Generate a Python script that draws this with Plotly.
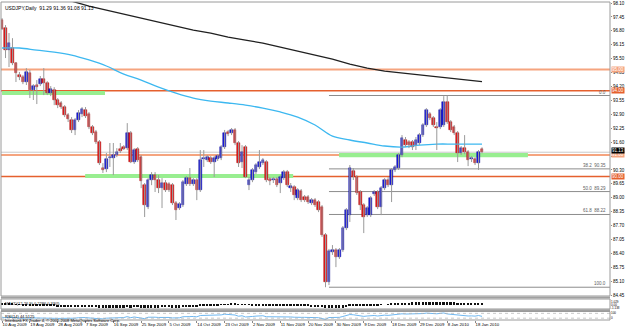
import plotly.graph_objects as go

title_text = "USDJPY,Daily  91.29 91.36 91.08 91.13"

opens = [97.31, 96.93, 95.90, 96.00, 95.30, 94.74, 94.64, 94.41, 94.83, 94.03,
         94.27, 94.31, 94.55, 94.36, 93.89, 94.03, 93.57, 93.43, 93.24, 92.87,
         92.63, 92.17, 92.63, 92.91, 93.10, 92.91, 92.31, 92.07, 91.60, 90.39,
         90.34, 90.86, 90.86, 91.00, 91.28, 91.37, 91.32, 92.03, 90.67, 91.28,
         90.90, 89.59, 88.57, 89.83, 90.06, 89.83, 89.45, 89.69, 89.64, 89.59,
         88.75, 88.52, 88.66, 89.64, 89.92, 89.64, 89.83, 89.36, 90.81, 90.76,
         90.86, 90.67, 90.81, 90.86, 91.37, 92.07, 92.03, 92.17, 91.56, 90.67,
         91.37, 89.59, 89.83, 90.20, 90.44, 90.62, 90.67, 89.87, 89.83, 89.87,
         89.69, 89.92, 90.20, 89.45, 89.50, 88.99, 89.31, 89.03, 89.03, 88.75,
         88.89, 88.80, 88.57, 87.26, 85.06, 86.47, 86.56, 86.23, 86.56, 87.59,
         88.19, 90.25, 89.97, 89.27, 88.66, 88.19, 88.19, 89.17, 89.27, 88.57,
         89.45, 89.83, 89.59, 90.30, 90.39, 91.00, 91.70, 91.60, 91.60, 91.46,
         91.56, 91.93, 92.40, 92.91, 92.73, 92.31, 92.31, 92.40, 93.47, 92.54,
         92.31, 92.03, 91.09, 91.32, 91.14, 90.81, 90.81, 90.62, 91.29]
highs = [97.40, 97.07, 96.70, 96.46, 95.34, 94.88, 94.74, 95.06, 94.97, 94.31,
         94.50, 94.69, 95.06, 94.45, 94.22, 94.17, 93.66, 93.52, 93.33, 92.96,
         92.77, 92.73, 93.10, 93.24, 93.24, 93.01, 92.40, 92.17, 91.70, 90.62,
         91.09, 91.56, 91.56, 91.32, 91.56, 91.46, 92.49, 92.12, 91.32, 91.37,
         91.00, 89.69, 89.92, 90.20, 90.20, 90.06, 89.92, 89.83, 89.73, 89.69,
         88.85, 88.80, 89.83, 90.01, 90.39, 89.92, 89.92, 91.23, 91.23, 91.00,
         90.95, 90.95, 91.04, 91.46, 92.17, 92.17, 92.26, 92.26, 91.65, 91.46,
         91.46, 89.97, 90.39, 90.62, 91.23, 90.86, 90.76, 89.97, 89.97, 89.97,
         90.06, 90.30, 90.30, 89.69, 89.59, 89.45, 89.41, 89.13, 89.13, 88.99,
         88.99, 88.89, 88.66, 87.35, 86.61, 86.79, 86.65, 86.65, 87.68, 88.52,
         90.53, 90.39, 90.06, 89.36, 88.75, 88.61, 89.08, 89.36, 89.36, 89.55,
         89.92, 89.97, 90.39, 90.53, 91.09, 91.93, 91.84, 91.70, 91.70, 91.84,
         92.03, 92.49, 93.19, 93.01, 92.82, 92.54, 93.19, 93.75, 93.78, 92.63,
         92.40, 92.12, 91.42, 91.93, 91.23, 90.95, 90.90, 91.23, 91.36]
lows = [96.84, 95.53, 95.11, 95.20, 94.41, 94.50, 94.31, 94.27, 93.66, 93.57,
        93.38, 94.22, 93.80, 93.80, 93.75, 93.33, 93.19, 93.15, 92.77, 92.54,
        92.03, 91.93, 92.54, 92.77, 92.73, 92.21, 91.93, 91.51, 90.53, 90.16,
        90.20, 90.44, 90.06, 90.90, 91.09, 91.23, 91.23, 90.62, 90.58, 90.67,
        89.45, 88.10, 88.47, 89.59, 89.27, 89.22, 88.52, 89.27, 89.27, 88.66,
        87.96, 88.43, 88.57, 89.55, 89.55, 89.55, 88.89, 89.27, 90.44, 90.67,
        90.58, 89.97, 90.72, 90.76, 91.28, 91.88, 91.93, 91.46, 90.44, 90.39,
        89.92, 89.36, 89.73, 90.11, 90.34, 90.53, 89.73, 89.59, 89.69, 89.50,
        89.22, 89.83, 89.50, 89.27, 88.89, 88.89, 88.80, 88.80, 88.71, 88.66,
        88.57, 88.33, 87.17, 84.82, 84.92, 86.33, 85.76, 86.14, 86.47, 87.49,
        87.87, 89.83, 89.13, 88.43, 87.35, 88.10, 88.10, 89.08, 88.47, 88.19,
        89.36, 89.50, 88.80, 90.20, 90.30, 90.90, 91.37, 91.32, 91.23, 91.23,
        91.46, 91.84, 92.31, 92.63, 92.31, 91.23, 92.21, 92.31, 92.45, 92.07,
        91.93, 90.67, 91.00, 91.04, 90.48, 90.67, 90.53, 90.30, 91.08]
closes = [96.88, 95.90, 96.23, 95.30, 94.83, 94.64, 94.41, 94.88, 94.03, 94.22,
          94.17, 94.55, 94.36, 93.89, 94.08, 93.57, 93.33, 93.24, 92.87, 92.68,
          92.17, 92.63, 92.96, 93.15, 92.82, 92.31, 92.03, 91.60, 90.62, 90.30,
          90.81, 90.90, 91.00, 91.14, 91.18, 91.28, 92.03, 90.67, 91.23, 90.76,
          89.78, 88.66, 89.83, 90.06, 89.83, 89.45, 89.69, 89.36, 89.36, 88.75,
          88.43, 88.71, 89.73, 89.92, 89.64, 89.83, 89.36, 90.76, 90.86, 90.90,
          90.67, 90.86, 90.95, 91.37, 92.03, 91.98, 92.17, 91.56, 90.62, 91.14,
          89.97, 89.83, 90.30, 90.53, 90.67, 90.76, 89.83, 89.78, 89.87, 89.59,
          89.97, 90.20, 89.59, 89.55, 89.13, 89.36, 88.89, 88.89, 88.80, 88.89,
          88.66, 88.43, 87.26, 85.06, 86.51, 86.56, 86.23, 86.56, 87.59, 88.43,
          90.39, 89.97, 89.22, 88.66, 88.10, 88.52, 88.99, 89.27, 88.57, 89.45,
          89.83, 89.59, 90.30, 90.44, 91.00, 91.79, 91.46, 91.46, 91.37, 91.70,
          91.93, 92.40, 93.10, 92.73, 92.40, 92.26, 93.10, 93.47, 92.54, 92.17,
          92.03, 91.09, 91.32, 91.14, 90.76, 90.86, 90.62, 91.14, 91.13]

# long moving average (black) sampled along the bars
ma_long_idx = [10, 15, 20, 25, 30, 35, 40, 45, 50, 55, 60, 65, 70, 75, 80, 85, 90,
               95, 100, 105, 110, 115, 120, 125, 130, 135, 138]
ma_long_val = [98.57, 98.38, 98.19, 97.96, 97.77, 97.59, 97.40, 97.21, 97.03, 96.84,
               96.70, 96.51, 96.37, 96.23, 96.04, 95.86, 95.67, 95.48, 95.25, 95.06,
               94.92, 94.83, 94.74, 94.64, 94.55, 94.48, 94.43]
# medium moving average (light blue)
ma_mid_idx = [0, 5, 10, 15, 20, 25, 30, 35, 40, 45, 50, 55, 60, 65, 70, 75, 80, 85,
              90, 95, 100, 105, 110, 115, 120, 125, 130, 138]
ma_mid_val = [96.00, 96.00, 95.90, 95.81, 95.67, 95.44, 95.16, 94.78, 94.50, 94.17,
              93.89, 93.66, 93.52, 93.43, 93.33, 93.19, 93.01, 92.77, 92.40, 91.88,
              91.70, 91.56, 91.42, 91.37, 91.46, 91.51, 91.51, 91.51]

macd_vals = [0.6, 0.5, 0.4, 0.3, 0.1, -0.05, -0.2, -0.3, -0.4, -0.5,
             -0.55, -0.6, -0.6, -0.65, -0.7, -0.75, -0.8, -0.85, -0.9, -0.95,
             -1.0, -1.0, -1.0, -0.95, -0.95, -1.0, -1.05, -1.1, -1.2, -1.3,
             -1.35, -1.35, -1.35, -1.3, -1.25, -1.2, -1.1, -1.15, -1.1, -1.1,
             -1.15, -1.25, -1.25, -1.2, -1.15, -1.15, -1.1, -1.1, -1.1, -1.15,
             -1.2, -1.2, -1.1, -1.0, -0.95, -0.9, -0.9, -0.75, -0.6, -0.5,
             -0.4, -0.3, -0.2, -0.1, 0.05, 0.15, 0.25, 0.25, 0.15, 0.1,
             -0.05, -0.15, -0.2, -0.2, -0.2, -0.2, -0.3, -0.35, -0.4, -0.45,
             -0.45, -0.45, -0.5, -0.55, -0.6, -0.6, -0.65, -0.7, -0.75, -0.8,
             -0.85, -0.9, -1.05, -1.35, -1.45, -1.5, -1.5, -1.45, -1.3, -1.1,
             -0.7, -0.5, -0.4, -0.4, -0.45, -0.4, -0.3, -0.25, -0.2, -0.1,
             0.0, 0.1, 0.2, 0.3, 0.45, 0.6, 0.7, 0.75, 0.8, 0.85,
             0.9, 0.95, 1.05, 1.1, 1.1, 1.05, 1.1, 1.15, 1.1, 1.0,
             0.9, 0.75, 0.65, 0.55, 0.45, 0.35, 0.3, 0.27, 0.23]

rsi_vals = [38, 33, 38, 34, 30, 30, 28, 33, 29, 32,
            32, 35, 33, 30, 33, 29, 28, 28, 26, 25,
            24, 30, 34, 37, 35, 32, 30, 28, 24, 24,
            30, 31, 33, 35, 35, 35, 43, 34, 40, 36,
            30, 26, 38, 40, 38, 36, 38, 36, 36, 32,
            30, 33, 42, 45, 43, 44, 41, 52, 53, 54,
            52, 53, 54, 57, 63, 62, 63, 56, 46, 50,
            40, 39, 44, 47, 49, 50, 42, 42, 42, 41,
            43, 45, 40, 40, 38, 40, 37, 37, 36, 37,
            36, 34, 27, 20, 35, 35, 34, 37, 44, 50,
            60, 58, 53, 49, 45, 48, 51, 52, 48, 52,
            55, 53, 57, 58, 62, 66, 64, 64, 63, 65,
            66, 68, 72, 70, 67, 66, 70, 73, 65, 62,
            60, 52, 54, 52, 48, 49, 47, 52, 45]

date_tick_idx = [0, 8, 16, 24, 32, 40, 48, 56, 64, 72, 80, 88, 96, 104, 112, 120, 128, 136]
date_tick_text = ["10 Aug 2009", "19 Aug 2009", "28 Aug 2009", "7 Sep 2009", "16 Sep 2009",
                  "25 Sep 2009", "5 Oct 2009", "14 Oct 2009", "23 Oct 2009", "2 Nov 2009",
                  "11 Nov 2009", "20 Nov 2009", "30 Nov 2009", "9 Dec 2009", "18 Dec 2009",
                  "29 Dec 2009", "8 Jan 2010", "18 Jan 2010"]

price_ticks = [98.10, 97.45, 96.80, 96.15, 95.50, 94.85, 94.20, 93.55, 92.90, 92.25,
               91.60, 90.95, 90.30, 89.65, 89.00, 88.35, 87.70, 87.05, 86.40, 85.75,
               85.10, 84.45]
# tick label hidden behind the level boxes on the price scale
hidden_ticks = [90.95]

# horizontal levels
level_prices = [95.00, 94.00, 91.00, 90.00]
level_colors = ["#F5A47F", "#E5602E", "#F5A47F", "#E5602E"]
level_widths = [2, 1.5, 2, 1.5]
bid_price = 91.13

# green zones
zone_x0 = [0, 23.9, 96.9]
zone_x1 = [29.6, 83.7, 151.2]
zone_lo = [93.80, 89.92, 90.90]
zone_hi = [93.99, 90.11, 91.09]

fib_start_idx = 94
fib_prices = [93.78, 90.35, 89.29, 88.22, 84.82]
fib_labels = ["0.0", "38.2  90.35", "50.0  89.29", "61.8  88.22", "100.0"]

x_min, x_max = -0.3, 174.8
y_min, y_max = 84.41, 98.15

FONT = "Liberation Sans"
n = len(opens)
idx = list(range(n))

wick_x, wick_y = [], []
for i in idx:
    wick_x += [i, i, None]
    wick_y += [lows[i], highs[i], None]

body_base = [min(o, c) for o, c in zip(opens, closes)]
body_h = [max(abs(c - o), 0.04) for o, c in zip(opens, closes)]
body_col = ["#1818E0" if c > o else "#E41A1C" for o, c in zip(opens, closes)]
body_line = ["#0A0A90" if c > o else "#A00000" for o, c in zip(opens, closes)]

fig = go.Figure()
fig.add_trace(go.Scatter(x=ma_long_idx, y=ma_long_val, mode="lines",
                         line=dict(color="#202020", width=1.3), hoverinfo="skip"))
fig.add_trace(go.Scatter(x=ma_mid_idx, y=ma_mid_val, mode="lines", line_shape="spline",
                         line=dict(color="#3DB8F0", width=1.3), hoverinfo="skip"))
fig.add_trace(go.Scatter(x=wick_x, y=wick_y, mode="lines",
                         line=dict(color="#9A9A9A", width=1), hoverinfo="skip"))
fig.add_trace(go.Bar(x=idx, y=body_h, base=body_base, width=0.75,
                     marker=dict(color=body_col, line=dict(color=body_line, width=0.5))))

fig.add_trace(go.Bar(x=idx, y=macd_vals, yaxis="y2", width=0.5,
                     marker=dict(color="#101010", line=dict(width=0))))
fig.add_trace(go.Scatter(x=idx, y=rsi_vals, yaxis="y3", mode="lines",
                         line=dict(color="#6FB7F0", width=1)))

shapes = []
for x0, x1, lo, hi in zip(zone_x0, zone_x1, zone_lo, zone_hi):
    shapes.append(dict(type="rect", xref="x", yref="y", x0=x0, x1=x1, y0=lo, y1=hi,
                       fillcolor="#98EE90", line=dict(width=0), layer="below"))
shapes.append(dict(type="line", xref="paper", yref="y", x0=0, x1=1, y0=bid_price, y1=bid_price,
                   line=dict(color="#C8C8C8", width=1), layer="below"))
for p, c, w in zip(level_prices, level_colors, level_widths):
    shapes.append(dict(type="line", xref="paper", yref="y", x0=0, x1=1, y0=p, y1=p,
                       line=dict(color=c, width=w), layer="below"))
for p in fib_prices:
    shapes.append(dict(type="line", xref="x", yref="y", x0=fib_start_idx, x1=x_max, y0=p, y1=p,
                       line=dict(color="#8C8C8C", width=1), layer="below"))
for lv in [70, 30]:
    shapes.append(dict(type="line", xref="paper", yref="y3", x0=0, x1=1, y0=lv, y1=lv,
                       line=dict(color="#B0B0B0", width=0.7, dash="dot")))
for d in [(0.0755, 1.0), (0.0346, 0.066), (0.0, 0.0267)]:
    shapes.append(dict(type="rect", xref="paper", yref="paper", x0=0, x1=1, y0=d[0], y1=d[1],
                       line=dict(color="#9A9A9A", width=1)))
shapes.append(dict(type="line", xref="paper", yref="paper", x0=0, x1=1, y0=0.0705, y1=0.0705,
                   line=dict(color="#A0A0A0", width=2)))
shapes.append(dict(type="line", xref="paper", yref="paper", x0=0, x1=1, y0=0.0305, y1=0.0305,
                   line=dict(color="#A0A0A0", width=2)))

annotations = [
    dict(text=title_text, xref="paper", yref="paper", x=0, y=1, xanchor="left", yanchor="top",
         xshift=2, yshift=-1, showarrow=False, font=dict(size=5, color="#000", family=FONT)),
    dict(text="MACD(12,26,9) 0.2286 0.3305", xref="paper", yref="paper", x=0, y=0.066,
         xanchor="left", yanchor="top", xshift=2, showarrow=False,
         font=dict(size=4, color="#000", family=FONT)),
    dict(text="RSI(14) 44.5125", xref="paper", yref="paper", x=0, y=0.0267,
         xanchor="left", yanchor="top", xshift=2, showarrow=False,
         font=dict(size=4, color="#000", family=FONT)),
    dict(text="Interbank FX Trader 4, © 2001-2008 MetaQuotes Software Corp.", xref="paper",
         yref="paper", x=0, y=0.013, xanchor="left", yanchor="top", xshift=2, showarrow=False,
         font=dict(size=4, color="#000", family=FONT)),
]
for p, lab in zip(fib_prices, fib_labels):
    annotations.append(dict(text=lab, xref="paper", yref="y", x=1, y=p, xanchor="right",
                            yanchor="bottom", xshift=-2, yshift=-1, showarrow=False,
                            font=dict(size=4.5, color="#606060", family=FONT)))
for p, c in zip(level_prices, level_colors):
    annotations.append(dict(text=f"{p:.2f}", xref="paper", yref="y", x=1, y=p, xanchor="left",
                            yanchor="middle", xshift=1, showarrow=False, bgcolor=c, borderpad=0,
                            font=dict(size=4.5, color="#FFFFFF", family=FONT)))
annotations.append(dict(text=f"{bid_price:.2f}", xref="paper", yref="y", x=1, y=bid_price,
                        xanchor="left", yanchor="middle", xshift=1, yshift=2, showarrow=False,
                        bgcolor="#000000", borderpad=0,
                        font=dict(size=4.5, color="#FFFFFF", family=FONT)))

fig.update_layout(
    width=625, height=330, margin=dict(l=1, r=15, t=2, b=10, autoexpand=False),
    paper_bgcolor="white", plot_bgcolor="white", showlegend=False, bargap=0,
    font=dict(family=FONT, size=5, color="#000"),
    xaxis=dict(range=[x_min, x_max], anchor="y3", tickvals=date_tick_idx, ticktext=date_tick_text,
               ticks="outside", ticklen=2, tickcolor="#888", showgrid=False, zeroline=False,
               tickangle=0, automargin=False,
               ticklabelposition="outside right", tickfont=dict(size=4.3, family=FONT),
               showline=False),
    yaxis=dict(domain=[0.0755, 1.0], range=[y_min, y_max], side="right", tickvals=price_ticks,
               ticktext=["" if v in hidden_ticks else f"{v:.2f}" for v in price_ticks],
               ticks="outside", ticklen=1,
               automargin=False, ticklabelstandoff=0,
               tickcolor="#888", showgrid=False, zeroline=False,
               tickfont=dict(size=4.5, family=FONT)),
    yaxis2=dict(domain=[0.0346, 0.066], range=[-1.7, 2.1], side="right", automargin=False,
                tickvals=[1.029, 0.0, -1.138], ticktext=["1.029", "0.00", "-1.138"],
                ticklabelstandoff=0,
                showgrid=False, zeroline=False, tickfont=dict(size=3, family=FONT)),
    yaxis3=dict(domain=[0.0, 0.0267], range=[15, 85], side="right", tickvals=[70, 30],
                automargin=False, ticklabelstandoff=0,
                ticktext=["100", "0"], showgrid=False, zeroline=False,
                tickfont=dict(size=3, family=FONT)),
)
fig.update_layout(shapes=shapes, annotations=annotations)
fig.write_html("out.html")
